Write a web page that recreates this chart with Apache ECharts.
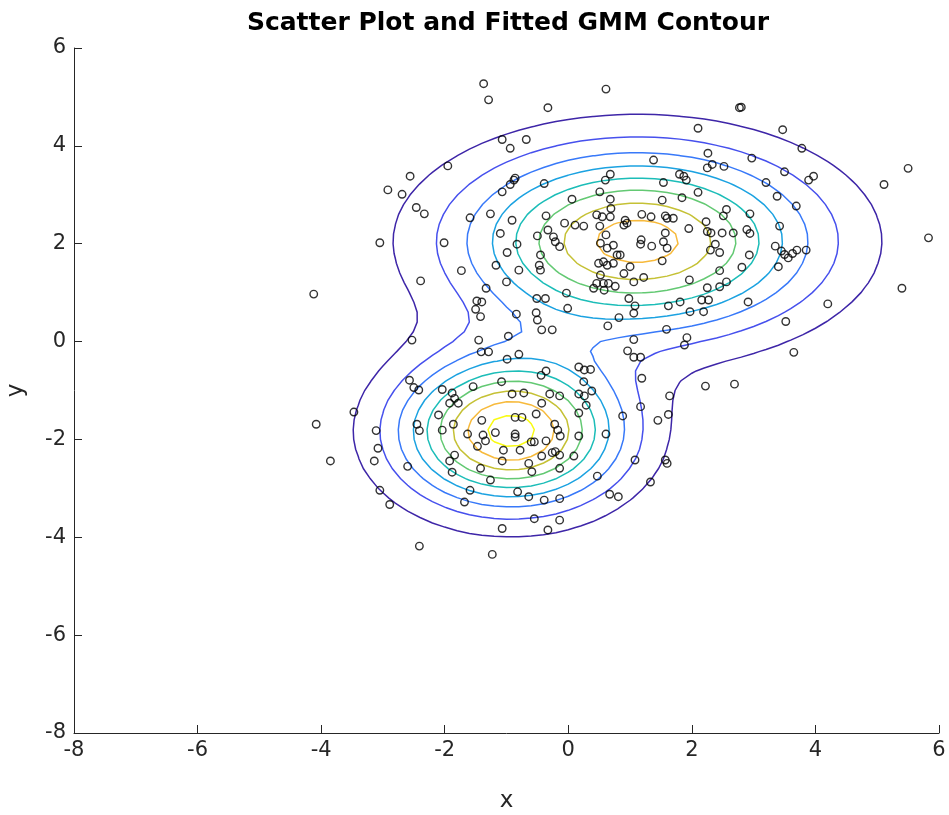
<!DOCTYPE html>
<html><head><meta charset="utf-8">
<script src="https://cdn.jsdelivr.net/npm/echarts@6/dist/echarts.min.js"></script>
<style>html,body{margin:0;padding:0;background:#fff}#c{width:949px;height:815px}</style>
</head><body><div id="c"></div>
<script>
const chartTitle = 'Scatter Plot and Fitted GMM Contour';
const xRange = [-8, 6];
const yRange = [-8, 6];
const tickStep = 2;
const pointsX = [
-1.95,-2.56,-2.92,-2.69,-2.46,-2.33,
-1.37,-1.29,0.61,-0.33,-1.07,-0.94,-0.68,-0.86,-0.88,-0.94,-1.07,-0.39,0.60,0.68,0.51,0.06,0.68,-1.59,-1.26,-0.91,-0.36,-1.10,-0.50,-0.33,-0.06,0.11,0.25,0.46,0.55,0.51,0.69,0.68,0.61,-0.24,
2.77,2.80,2.10,1.38,2.26,2.25,2.33,2.52,2.97,1.80,1.87,1.91,1.54,3.20,3.38,2.10,1.84,1.52,2.56,2.51,2.94,1.19,1.34,1.57,1.60,1.70,0.92,0.95,0.90,2.23,2.25,1.95,2.49,2.67,2.31,2.89,2.94,3.42,1.57,1.18,
3.47,3.78,3.50,3.97,3.89,5.11,5.50,3.69,5.83,
-3.05,-2.01,-1.73,-2.39,-4.12,-2.53,-2.57,-2.50,-2.42,-2.04,-1.88,-1.84,-1.92,-1.78,-3.47,
-0.83,-0.99,-1.17,-0.80,-0.45,-0.45,-0.47,-1.00,-1.33,-0.21,-0.14,0.52,0.63,0.73,0.79,0.49,0.57,0.63,0.73,0.52,0.46,0.57,0.65,0.76,0.41,0.58,-0.03,-0.51,-0.37,-0.01,0.64,0.82,-1.48,-1.40,-1.50,-1.42,-0.84,-0.52,-0.50,-0.43,-0.26,-0.97,-1.45,-1.41,-1.29,-0.99,-0.80,-0.44,-0.36,0.17,0.26,0.36,0.25,0.38,0.26,0.29,0.17,-1.08,-1.54,-0.91,-0.72,-0.30,-0.14,-0.43,
1.17,1.35,1.54,1.60,1.52,0.84,1.00,0.90,1.06,1.22,2.38,2.30,2.45,3.35,2.93,2.81,3.40,2.45,1.96,2.25,2.56,2.45,2.16,2.27,1.81,1.62,0.98,1.08,1.06,1.97,2.19,2.91,1.59,1.92,1.88,1.06,0.96,1.06,1.17,1.19,2.22,2.69,1.64,1.17,
3.45,3.50,3.56,3.63,3.70,3.85,5.40,4.20,3.52,3.65,
-4.08,-3.85,-3.11,-3.08,-3.14,-3.05,-2.89,-2.60,-2.45,-2.41,-2.10,-2.04,-1.86,-1.84,-1.92,-1.88,-2.41,
-1.40,-0.86,-0.75,-0.52,-1.63,-1.38,-1.34,-1.18,-0.86,-0.86,-0.60,-0.55,-0.22,-0.17,-0.13,-0.36,0.17,0.17,0.61,-1.47,-1.05,-0.78,-1.07,-0.64,-0.59,-0.43,-0.26,-0.21,-0.14,0.09,-0.14,-1.42,-1.26,-1.59,-1.68,-0.82,-0.64,-0.39,-0.14,0.47,0.67,0.81,-0.55,-0.14,-0.33,-1.07,-1.23,
0.88,1.45,1.62,1.08,1.57,1.60,1.33
];
const pointsY = [
3.59,3.38,3.10,3.01,2.74,2.61,
5.27,4.94,5.16,4.78,4.13,3.95,4.13,3.34,3.30,3.21,3.06,3.23,3.30,3.42,3.06,2.91,2.91,2.53,2.61,2.48,2.57,2.21,2.16,2.28,2.42,2.38,2.36,2.59,2.55,2.36,2.72,2.55,2.18,2.14,
4.78,4.79,4.36,3.71,3.85,3.55,3.62,3.58,3.75,3.42,3.38,3.30,3.25,3.25,2.97,3.05,2.94,2.89,2.70,2.57,2.61,2.60,2.55,2.57,2.52,2.52,2.48,2.42,2.38,2.45,2.25,2.31,2.22,2.22,2.22,2.29,2.21,2.36,2.22,2.08,
4.33,3.95,3.47,3.38,3.30,3.21,3.54,2.77,2.12,
2.02,2.02,1.45,1.24,0.97,0.03,-0.79,-0.94,-0.99,-0.98,-1.05,-1.16,-1.26,-1.26,-1.44,
1.99,1.82,1.56,1.46,1.77,1.46,1.56,1.22,1.09,2.04,1.94,2.01,1.91,1.97,1.77,1.60,1.63,1.56,1.60,1.36,1.19,1.19,1.19,1.13,1.09,1.05,0.99,0.88,0.88,0.68,0.32,0.49,0.83,0.81,0.66,0.51,0.56,0.59,0.44,0.24,0.24,0.11,0.03,-0.21,-0.21,-0.36,-0.26,-0.69,-0.60,-0.52,-0.58,-0.57,-0.82,-1.01,-1.11,-1.30,-1.07,-0.82,-0.92,-1.07,-1.05,-1.07,-1.11,-1.26,
1.99,1.95,2.04,1.91,1.65,1.77,1.53,1.39,1.22,1.31,1.99,1.87,1.82,1.95,1.77,1.52,1.53,1.45,1.26,1.10,1.22,1.12,0.85,0.85,0.81,0.73,0.88,0.73,0.58,0.61,0.61,0.81,0.25,0.08,-0.07,0.04,-0.19,-0.32,-0.32,-0.75,-0.91,-0.87,-1.11,-1.33,
1.85,1.78,1.71,1.80,1.87,1.87,1.09,0.77,0.41,-0.22,
-1.69,-2.44,-1.82,-2.18,-2.44,-3.04,-3.33,-2.55,-1.69,-1.82,-1.50,-1.81,-1.69,-2.32,-2.44,-2.67,-4.18,
-1.61,-1.55,-1.55,-1.48,-1.89,-1.91,-2.03,-1.86,-1.89,-1.95,-2.05,-2.05,-1.69,-1.81,-1.93,-2.03,-1.93,-1.46,-1.89,-2.14,-2.22,-2.22,-2.44,-2.49,-2.66,-2.34,-2.27,-2.25,-2.32,-2.34,-2.59,-2.59,-2.83,-3.04,-3.28,-3.07,-3.17,-3.24,-3.21,-2.75,-3.12,-3.17,-3.62,-3.65,-3.85,-3.82,-4.35,
-1.52,-1.61,-1.49,-2.42,-2.42,-2.49,-2.87
];
// fitted two-component GMM
const gmmWeights = [0.639, 0.361];
const gmmMeanX = [1.12, -0.93];
const gmmMeanY = [2.05, -1.84];
const gmmVarX = [3.65, 1.44];
const gmmVarY = [1.57, 1.03];
const gmmCovXY = [0, 0];
const contourLevels = [0.005, 0.010, 0.015, 0.020, 0.025, 0.030, 0.035, 0.040, 0.045];
const contourColors = ['#3E26A8','#4650ED','#3879F9','#1BA2E1','#1CBDB8','#63C973','#C5C135','#F7BA3C','#F9FB14'];
const meshDensity = 71;

function gmmPdf(x, y) {
  let s = 0;
  for (let k = 0; k < gmmWeights.length; k++) {
    const a = gmmVarX[k], b = gmmCovXY[k], d = gmmVarY[k];
    const det = a * d - b * b;
    const dx = x - gmmMeanX[k], dy = y - gmmMeanY[k];
    const q = (d * dx * dx - 2 * b * dx * dy + a * dy * dy) / det;
    s += gmmWeights[k] * Math.exp(-0.5 * q) / (2 * Math.PI * Math.sqrt(det));
  }
  return s;
}
const N = meshDensity;
const gx = [], gy = [];
for (let i = 0; i < N; i++) {
  gx.push(xRange[0] + (xRange[1] - xRange[0]) * i / (N - 1));
  gy.push(yRange[0] + (yRange[1] - yRange[0]) * i / (N - 1));
}
const Z = gy.map(y => gx.map(x => gmmPdf(x, y)));

function contourLines(level) {
  const segs = [];
  const interp = (x1, y1, v1, x2, y2, v2) => {
    const t = (level - v1) / (v2 - v1);
    return [x1 + t * (x2 - x1), y1 + t * (y2 - y1)];
  };
  for (let j = 0; j < N - 1; j++) {
    for (let i = 0; i < N - 1; i++) {
      const a = Z[j][i], b = Z[j][i + 1], c = Z[j + 1][i + 1], d = Z[j + 1][i];
      const A = a >= level, B = b >= level, C = c >= level, D = d >= level;
      const x0 = gx[i], x1 = gx[i + 1], y0 = gy[j], y1 = gy[j + 1];
      const e = {};
      if (A !== B) e.bottom = { k: 'h' + i + '_' + j, p: interp(x0, y0, a, x1, y0, b) };
      if (B !== C) e.right = { k: 'v' + (i + 1) + '_' + j, p: interp(x1, y0, b, x1, y1, c) };
      if (D !== C) e.top = { k: 'h' + i + '_' + (j + 1), p: interp(x0, y1, d, x1, y1, c) };
      if (A !== D) e.left = { k: 'v' + i + '_' + j, p: interp(x0, y0, a, x0, y1, d) };
      const keys = Object.keys(e);
      if (keys.length === 2) {
        segs.push([e[keys[0]], e[keys[1]]]);
      } else if (keys.length === 4) {
        const centerAbove = (a + b + c + d) / 4 >= level;
        if (centerAbove === A) {
          segs.push([e.bottom, e.right]); segs.push([e.top, e.left]);
        } else {
          segs.push([e.left, e.bottom]); segs.push([e.right, e.top]);
        }
      }
    }
  }
  const adj = new Map();
  segs.forEach((s, idx) => s.forEach(end => {
    if (!adj.has(end.k)) adj.set(end.k, []);
    adj.get(end.k).push(idx);
  }));
  const used = new Array(segs.length).fill(false);
  const lines = [];
  for (let s0 = 0; s0 < segs.length; s0++) {
    if (used[s0]) continue;
    used[s0] = true;
    const keys = [segs[s0][0].k, segs[s0][1].k];
    const pts = [segs[s0][0].p, segs[s0][1].p];
    const extend = (forward) => {
      while (true) {
        const key = forward ? keys[keys.length - 1] : keys[0];
        const cand = (adj.get(key) || []).find(t => !used[t]);
        if (cand === undefined) break;
        used[cand] = true;
        const s = segs[cand];
        const nxt = s[0].k === key ? s[1] : s[0];
        if (forward) { keys.push(nxt.k); pts.push(nxt.p); }
        else { keys.unshift(nxt.k); pts.unshift(nxt.p); }
      }
    };
    extend(true); extend(false);
    lines.push(pts);
  }
  return lines;
}

const FONT = '"DejaVu Sans", "Liberation Sans", Arial, sans-serif';
const contourSeries = contourLevels.map((lv, k) => ({
  type: 'lines',
  coordinateSystem: 'cartesian2d',
  polyline: true,
  silent: true,
  z: 2,
  lineStyle: { color: contourColors[k], width: 1.5, opacity: 1 },
  data: contourLines(lv).map(c => ({ coords: c }))
}));

const chart = echarts.init(document.getElementById('c'), null, { renderer: 'canvas' });
chart.setOption({
  animation: false,
  backgroundColor: '#ffffff',
  title: {
    text: chartTitle,
    left: 503, top: 6, textAlign: 'center',
    textStyle: { fontFamily: FONT, fontSize: 25, fontWeight: 'bold', color: '#000' }
  },
  grid: { left: 74, right: 10, top: 48, bottom: 82, outerBoundsMode: 'none', containLabel: false },
  xAxis: {
    type: 'value', min: xRange[0], max: xRange[1], interval: tickStep,
    name: 'x', nameLocation: 'middle', nameGap: 57,
    nameTextStyle: { fontFamily: FONT, fontSize: 23, color: '#262626' },
    axisLine: { onZero: false, lineStyle: { color: '#262626', width: 1 } },
    axisTick: { inside: true, length: 8, lineStyle: { color: '#262626' } },
    axisLabel: { fontFamily: FONT, fontSize: 21, color: '#262626', margin: 7 },
    splitLine: { show: false }
  },
  yAxis: {
    type: 'value', min: yRange[0], max: yRange[1], interval: tickStep,
    name: 'y', nameLocation: 'middle', nameGap: 46,
    nameTextStyle: { fontFamily: FONT, fontSize: 23, color: '#262626' },
    axisLine: { onZero: false, lineStyle: { color: '#262626', width: 1 } },
    axisTick: { inside: true, length: 8, lineStyle: { color: '#262626' } },
    axisLabel: { fontFamily: FONT, fontSize: 21, color: '#262626', margin: 8 },
    splitLine: { show: false }
  },
  series: contourSeries.concat([{
    type: 'scatter',
    z: 3,
    symbol: 'circle',
    symbolSize: 7.5,
    itemStyle: { color: 'rgba(0,0,0,0)', borderColor: '#000', borderWidth: 1.4 },
    data: pointsX.map((x, i) => [x, pointsY[i]])
  }])
});
</script></body></html>
